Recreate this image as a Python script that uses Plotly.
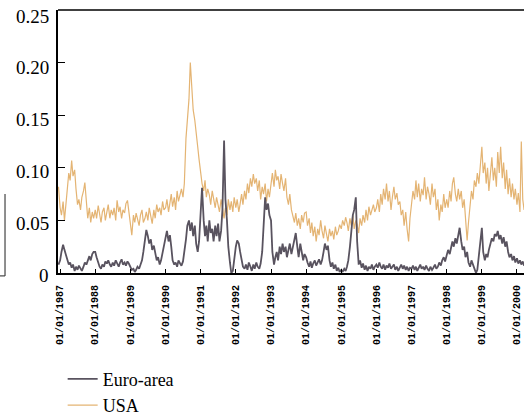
import pandas as pd
import plotly.graph_objects as go

# semi-monthly observation dates (1st and 15th), Dec 1986 - Mar 2000
dates = pd.date_range("1986-12-15", "2000-03-15", freq="SMS")

euro_area = [
    0.008,
    0.012, 0.02, 0.027, 0.022, 0.018, 0.012, 0.008, 0.01, 0.005, 0.008, 0.002, 0.006, 0.003, 0.007, 0.004, 0.002, 0.006, 0.01, 0.008, 0.012, 0.016, 0.012, 0.018, 0.02,
    0.02, 0.015, 0.01, 0.006, 0.004, 0.008, 0.006, 0.011, 0.009, 0.012, 0.008, 0.006, 0.01, 0.007, 0.012, 0.009, 0.006, 0.01, 0.013, 0.008, 0.01, 0.007, 0.011, 0.009,
    0.006, 0.003, 0.004, 0.001, 0.003, 0.006, 0.004, 0.008, 0.012, 0.02, 0.03, 0.041, 0.035, 0.028, 0.032, 0.022, 0.026, 0.018, 0.012, 0.015, 0.008, 0.012, 0.02, 0.028,
    0.035, 0.04, 0.03, 0.036, 0.025, 0.012, 0.008, 0.01, 0.006, 0.012, 0.009, 0.007, 0.011, 0.02, 0.032, 0.045, 0.05, 0.04, 0.048, 0.035, 0.045, 0.028, 0.02, 0.03,
    0.06, 0.081, 0.05, 0.035, 0.045, 0.03, 0.05, 0.038, 0.042, 0.03, 0.045, 0.035, 0.047, 0.03, 0.04, 0.06, 0.126, 0.07, 0.05, 0.025, 0.01, 0.0, 0.002, 0.015,
    0.025, 0.031, 0.028, 0.02, 0.012, 0.006, 0.004, 0.008, 0.003, 0.01, 0.006, 0.002, 0.008, 0.004, 0.01, 0.006, 0.004, 0.009, 0.02, 0.045, 0.072, 0.06, 0.066, 0.055,
    0.05, 0.02, 0.008, 0.015, 0.02, 0.012, 0.025, 0.018, 0.028, 0.02, 0.025, 0.015, 0.022, 0.028, 0.018, 0.025, 0.03, 0.038, 0.025, 0.015, 0.028, 0.02, 0.012, 0.018,
    0.015, 0.01, 0.006, 0.011, 0.005, 0.009, 0.012, 0.007, 0.01, 0.013, 0.008, 0.012, 0.02, 0.028, 0.022, 0.026, 0.012, 0.006, 0.01, 0.004, 0.008, 0.002, 0.005, 0.001,
    0.003, 0.001, 0.004, 0.002, 0.006, 0.012, 0.025, 0.04, 0.055, 0.06, 0.072, 0.03, 0.008, 0.012, 0.005, 0.009, 0.003, 0.007, 0.002, 0.006, 0.004, 0.008, 0.003, 0.006,
    0.008, 0.005, 0.01, 0.006, 0.004, 0.008, 0.003, 0.007, 0.005, 0.009, 0.004, 0.006, 0.008, 0.003, 0.006, 0.002, 0.005, 0.008, 0.004, 0.007, 0.003, 0.006, 0.002, 0.005,
    0.004, 0.007, 0.003, 0.006, 0.002, 0.005, 0.008, 0.004, 0.006, 0.003, 0.007, 0.004, 0.002, 0.006, 0.003, 0.005, 0.008, 0.004, 0.006, 0.01, 0.007, 0.012, 0.015, 0.011,
    0.016, 0.022, 0.018, 0.026, 0.03, 0.025, 0.033, 0.028, 0.036, 0.043, 0.03, 0.022, 0.025, 0.015, 0.02, 0.01, 0.006, 0.012, 0.008, 0.004, 0.0, 0.003, 0.015, 0.03,
    0.043, 0.02, 0.012, 0.018, 0.015, 0.022, 0.028, 0.033, 0.03, 0.037, 0.035, 0.04, 0.032, 0.036, 0.028, 0.034, 0.025, 0.03, 0.02, 0.015, 0.018, 0.012, 0.016, 0.01,
    0.014, 0.009, 0.012, 0.008, 0.011, 0.007,
]

usa = [
    0.082,
    0.062, 0.055, 0.068, 0.05, 0.064, 0.075, 0.095, 0.088, 0.107, 0.092, 0.098, 0.08, 0.065, 0.07, 0.06, 0.072, 0.078, 0.086, 0.07, 0.052, 0.062, 0.048, 0.058, 0.052,
    0.06, 0.052, 0.064, 0.055, 0.048, 0.058, 0.062, 0.05, 0.057, 0.065, 0.052, 0.06, 0.055, 0.062, 0.05, 0.069, 0.058, 0.063, 0.052, 0.06, 0.057, 0.066, 0.069, 0.058,
    0.05, 0.036, 0.055, 0.048, 0.057, 0.05, 0.045, 0.055, 0.06, 0.048, 0.052, 0.058, 0.05, 0.062, 0.055, 0.047, 0.06, 0.052, 0.065, 0.058, 0.062, 0.055, 0.068, 0.06,
    0.062, 0.07, 0.058, 0.068, 0.075, 0.063, 0.072, 0.06, 0.078, 0.068, 0.074, 0.08, 0.072, 0.085, 0.128, 0.148, 0.165, 0.2, 0.17, 0.155, 0.145, 0.13, 0.12, 0.108,
    0.095, 0.085, 0.078, 0.088, 0.072, 0.08, 0.074, 0.065, 0.078, 0.07, 0.062, 0.072, 0.065, 0.058, 0.07, 0.06, 0.052, 0.062, 0.055, 0.07, 0.06, 0.068, 0.058, 0.072,
    0.062, 0.07, 0.058, 0.066, 0.075, 0.065, 0.078, 0.07, 0.085, 0.076, 0.09, 0.082, 0.094, 0.085, 0.09, 0.078, 0.088, 0.07, 0.082, 0.075, 0.085, 0.068, 0.08, 0.072,
    0.085, 0.095, 0.082, 0.098, 0.088, 0.092, 0.08, 0.094, 0.085, 0.078, 0.09, 0.072, 0.065, 0.075, 0.06, 0.055, 0.048, 0.057, 0.045, 0.052, 0.042, 0.055, 0.048, 0.057,
    0.058, 0.045, 0.052, 0.038, 0.048, 0.035, 0.044, 0.03, 0.042, 0.036, 0.05, 0.04, 0.033, 0.045, 0.038, 0.03, 0.042, 0.035, 0.04, 0.032, 0.044, 0.036, 0.04, 0.046,
    0.042, 0.05, 0.045, 0.053, 0.048, 0.04, 0.052, 0.045, 0.055, 0.042, 0.05, 0.046, 0.038, 0.052, 0.045, 0.055, 0.048, 0.06, 0.05, 0.063, 0.055, 0.06, 0.065, 0.058,
    0.062, 0.07, 0.058, 0.075, 0.065, 0.08, 0.07, 0.085, 0.068, 0.078, 0.06, 0.072, 0.082, 0.07, 0.076, 0.065, 0.068, 0.055, 0.06, 0.045, 0.058, 0.042, 0.03, 0.052,
    0.065, 0.078, 0.07, 0.088, 0.072, 0.085, 0.068, 0.08, 0.074, 0.091, 0.07, 0.082, 0.075, 0.065, 0.085, 0.072, 0.08, 0.06, 0.07, 0.05, 0.065, 0.058, 0.075, 0.062,
    0.07, 0.062, 0.078, 0.068, 0.085, 0.091, 0.075, 0.068, 0.08, 0.07, 0.078, 0.062, 0.07, 0.05, 0.031, 0.048, 0.062, 0.078, 0.07, 0.088, 0.082, 0.095, 0.085, 0.1,
    0.12, 0.095, 0.105, 0.085, 0.1, 0.078, 0.092, 0.11, 0.088, 0.1, 0.082, 0.115, 0.095, 0.12, 0.09, 0.105, 0.08, 0.098, 0.075, 0.09, 0.072, 0.085, 0.07, 0.08,
    0.065, 0.076, 0.058, 0.125, 0.07, 0.06,
]

year_ticks = pd.date_range("1987-01-01", "2000-01-01", freq="YS")
y_ticks = [0, 0.05, 0.10, 0.15, 0.20, 0.25]
y_tick_labels = ["0", "0.05", "0.10", "0.15", "0.20", "0.25"]

assert len(dates) == len(euro_area) == len(usa), (len(dates), len(euro_area), len(usa))

fig = go.Figure()
fig.add_trace(go.Scatter(x=dates, y=usa, name="USA", mode="lines",
                         line=dict(color="#e4b473", width=1.2)))
fig.add_trace(go.Scatter(x=dates, y=euro_area, name="Euro-area", mode="lines",
                         line=dict(color="#59535f", width=1.8)))

# y tick labels drawn as text at the axis positions (top one would be hidden by the axis code)
annotations = [
    dict(x=0, xref="paper", y=v, yref="y", text=t, showarrow=False,
         xanchor="right", yanchor="middle", xshift=-7, yshift=-2 - 4 * v / 0.25,
         font=dict(family="Liberation Serif", size=19, color="black"))
    for v, t in zip(y_ticks, y_tick_labels)
]

fig.update_layout(
    width=524, height=416,
    margin=dict(l=58, r=0, t=10, b=143, autoexpand=False),
    paper_bgcolor="white", plot_bgcolor="white",
    font=dict(family="Liberation Serif", color="black", size=19),
    showlegend=True,
    legend=dict(x=0.01, y=-0.333, xanchor="left", yanchor="top",
                traceorder="reversed", font=dict(size=18, family="Liberation Serif"),
                bgcolor="rgba(0,0,0,0)", tracegroupgap=0, itemwidth=30),
    xaxis=dict(
        type="date", range=["1986-12-10", "2000-03-14"], automargin=False,
        tickvals=year_ticks, tickformat="%d/%m/%Y", tickangle=-90,
        ticks="inside", ticklen=4, tickcolor="black", ticklabelstandoff=6,
        showline=True, linecolor="black", linewidth=2,
        showgrid=False, zeroline=False,
        tickfont=dict(family="Liberation Mono", size=10, weight="bold", color="black"),
    ),
    yaxis=dict(
        range=[0, 0.25], tickvals=y_ticks, automargin=False, showticklabels=False,
        ticks="inside", ticklen=7, tickcolor="black",
        showline=True, linecolor="black", linewidth=1.5,
        showgrid=False, zeroline=False,
    ),
    annotations=annotations,
    shapes=[
        dict(type="line", xref="paper", yref="paper", x0=0, x1=1, y0=1, y1=1,
             line=dict(color="black", width=1.5)),
        dict(type="line", xref="paper", yref="paper", x0=-0.1137, x1=-0.1137, y0=-0.011, y1=0.3,
             line=dict(color="#444444", width=1.2)),
        dict(type="line", xref="paper", yref="paper", x0=-0.125, x1=-0.1137, y0=-0.011, y1=-0.011,
             line=dict(color="#444444", width=1.2)),
    ],
)

fig.write_html("out.html", config={"displayModeBar": False},
               post_script="document.body.style.margin='0';")
